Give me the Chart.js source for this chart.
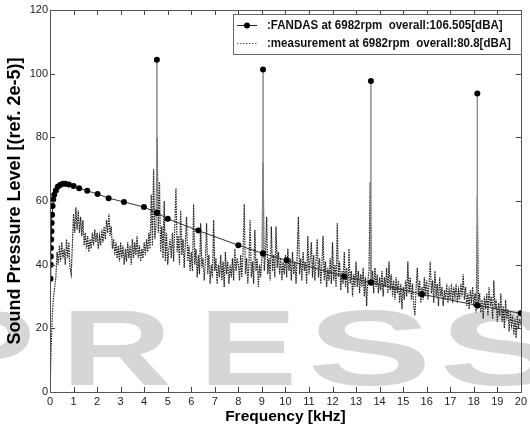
<!DOCTYPE html>
<html>
<head>
<meta charset="utf-8">
<script src="https://cdn.jsdelivr.net/npm/chart.js@4.4.1/dist/chart.umd.min.js"></script>
<style>
  html, body { margin: 0; padding: 0; background: #fff; }
  #wrap { width: 530px; height: 427px; }
</style>
</head>
<body>
<div id="wrap"><canvas id="chart" width="530" height="427"></canvas></div>
<script>
// FANDAS prediction: broadband curve plus tonal peaks at the blade passing harmonics
const fandasFreq = [0.02, 0.03, 0.035, 0.04, 0.05, 0.06, 0.07, 0.09, 0.11, 0.14, 0.18, 0.25, 0.33, 0.43, 0.54, 0.66, 0.8, 1.0, 1.24, 1.58, 2.02, 2.49, 3.14, 3.99,
  4.54, 4.54, 4.54, 5.0, 6.3, 8.0, 9.05, 9.05, 9.05, 10.05, 12.5, 13.63, 13.63, 13.63, 15.8, 18.15, 18.15, 18.15, 19.99];
const fandasLevel = [35.6, 40, 42.6, 45.2, 47.9, 50.5, 53.1, 55.7, 58.4, 60.5, 62, 63.3, 64.5, 65, 65.4, 65.4, 65.2, 64.7, 64, 63.2, 62.2, 60.9, 59.7, 58.1,
  56.3, 104.4, 56.3, 54.4, 50.7, 46.1, 43.5, 101.3, 43.5, 41.4, 36.3, 34.4, 97.7, 34.4, 30.7, 27.2, 93.8, 27.2, 24.7];

// measured spectrum, one value every 0.05 kHz (one row per kHz)
const measStep = 0.05;
const measLevel = [
  0, 14, 24, 30, 33, 36, 44, 40, 46, 41, 47, 42, 45, 40, 48, 42, 47, 39, 37, 46,
  56, 50, 58, 51, 57, 50, 55, 49, 54, 46, 50, 45, 49, 44, 48, 45, 50, 46, 51, 47,
  50, 45, 49, 46, 51, 47, 52, 48, 54, 50, 56, 49, 52, 45, 48, 43, 47, 42, 46, 41,
  47, 42, 46, 40, 45, 41, 47, 42, 46, 40, 48, 42, 47, 43, 49, 42, 46, 41, 45, 42,
  47, 43, 48, 44, 50, 45, 62, 46, 70, 48, 52, 80, 50, 66, 44, 52, 42, 60, 41, 50,
  40, 45, 48, 42, 50, 41, 52, 64, 44, 49, 40, 57, 43, 48, 39, 47, 55, 41, 46, 38,
  44, 38, 59, 40, 45, 36, 43, 37, 53, 39, 42, 35, 41, 53, 37, 43, 34, 40, 36, 54,
  38, 42, 34, 40, 36, 43, 35, 41, 33, 44, 37, 41, 34, 40, 36, 42, 35, 45, 38, 42,
  40, 35, 43, 36, 44, 59, 37, 42, 34, 40, 54, 36, 41, 34, 51, 38, 42, 33, 40, 36,
  42, 72, 38, 43, 55, 37, 42, 35, 52, 38, 43, 36, 52, 39, 44, 37, 42, 35, 41, 37,
  43, 36, 45, 38, 42, 35, 44, 37, 41, 34, 43, 55, 37, 42, 35, 44, 38, 41, 34, 49,
  37, 42, 47, 36, 43, 35, 41, 48, 36, 42, 34, 40, 49, 35, 41, 33, 39, 35, 42, 34,
  47, 35, 40, 33, 53, 36, 41, 32, 38, 34, 44, 33, 39, 31, 45, 34, 38, 30, 37, 33,
  41, 33, 38, 31, 37, 33, 39, 30, 36, 27, 35, 38, 66, 34, 38, 31, 39, 33, 37, 31,
  36, 32, 38, 30, 36, 33, 39, 31, 41, 32, 37, 30, 35, 29, 36, 31, 35, 28, 34, 26,
  33, 29, 35, 30, 41, 31, 36, 29, 34, 27, 24, 33, 39, 30, 35, 28, 33, 29, 36, 30,
  35, 29, 34, 41, 31, 35, 28, 38, 30, 34, 27, 36, 30, 33, 27, 32, 29, 34, 28, 32,
  29, 34, 28, 33, 30, 34, 28, 32, 29, 34, 30, 37, 29, 33, 27, 31, 26, 32, 28, 33,
  27, 31, 25, 61, 28, 31, 25, 29, 23, 30, 26, 31, 24, 33, 27, 30, 23, 35, 26, 29,
  22, 28, 24, 31, 22, 27, 20, 29, 23, 26, 19, 25, 21, 24, 18, 23, 17, 24, 20, 23, 21
];

const legendLabels = [':FANDAS at 6982rpm  overall:106.505[dBA]', ':measurement at 6982rpm  overall:80.8[dBA]'];
const xTitle = 'Frequency [kHz]';
const yTitle = 'Sound Pressure Level [(ref. 2e-5)]';
const watermark = ['P', 'R', 'E', 'S', 'S'];

const SANS = '"Liberation Sans", Arial, sans-serif';

const fandasPts = fandasFreq.map((f, i) => ({ x: f, y: fandasLevel[i] }));
const measPts = measLevel.map((v, i) => ({ x: +(i * measStep).toFixed(2), y: v }));

// box with inward ticks on all four sides, matlab style
const boxPlugin = {
  id: 'boxPlugin',
  beforeDraw(chart) {
    // faint publisher watermark behind everything
    const ctx = chart.ctx;
    const spots = [[-65, 100], [61, 111], [199, 98], [307, 125], [439, 125]];
    ctx.save();
    ctx.fillStyle = '#d6d6d6';
    ctx.font = 'bold 108px ' + SANS;
    ctx.textBaseline = 'alphabetic';
    watermark.forEach((ch, i) => {
      const w = ctx.measureText(ch).width;
      const [x0, tw] = spots[i];
      ctx.save();
      ctx.translate(x0, 385);
      ctx.scale(tw / w, 1);
      ctx.fillText(ch, 0, 0);
      ctx.restore();
    });
    ctx.restore();
  },
  afterDatasetsDraw(chart) {
    const { ctx, chartArea: a, scales } = chart;
    ctx.save();
    ctx.strokeStyle = '#444';
    ctx.lineWidth = 1;
    ctx.beginPath();
    scales.x.ticks.forEach(t => {
      const px = Math.round(scales.x.getPixelForValue(t.value)) + 0.5;
      ctx.moveTo(px, a.bottom); ctx.lineTo(px, a.bottom - 5);
      ctx.moveTo(px, a.top); ctx.lineTo(px, a.top + 5);
    });
    scales.y.ticks.forEach(t => {
      const py = Math.round(scales.y.getPixelForValue(t.value)) + 0.5;
      ctx.moveTo(a.left, py); ctx.lineTo(a.left + 5, py);
      ctx.moveTo(a.right, py); ctx.lineTo(a.right - 5, py);
    });
    ctx.stroke();
    ctx.strokeStyle = '#555';
    ctx.strokeRect(Math.round(a.left) + 0.5, Math.round(a.top) + 0.5, Math.round(a.right - a.left), Math.round(a.bottom - a.top));
    ctx.restore();
  },
  afterDraw(chart) {
    // legend box in the upper right
    const ctx = chart.ctx;
    ctx.save();
    const bx = 233, by = 14, bw = 288, bh = 40;
    ctx.fillStyle = '#fff';
    ctx.fillRect(bx, by, bw, bh);
    ctx.strokeStyle = '#666';
    ctx.lineWidth = 1;
    ctx.strokeRect(bx + 0.5, by + 0.5, bw, bh);
    const rows = [25, 43];
    ctx.strokeStyle = '#222';
    ctx.beginPath(); ctx.moveTo(237, rows[0] + 0.5); ctx.lineTo(257, rows[0] + 0.5); ctx.stroke();
    ctx.fillStyle = '#000';
    ctx.beginPath(); ctx.arc(247, rows[0] + 0.5, 3, 0, Math.PI * 2); ctx.fill();
    ctx.setLineDash([1.5, 1.5]);
    ctx.strokeStyle = '#555';
    ctx.beginPath(); ctx.moveTo(237, rows[1] + 0.5); ctx.lineTo(257, rows[1] + 0.5); ctx.stroke();
    ctx.setLineDash([]);
    ctx.font = 'bold 12px ' + SANS;
    ctx.textBaseline = 'middle';
    ctx.fillStyle = '#111';
    legendLabels.forEach((t, i) => {
      ctx.save();
      ctx.translate(267, rows[i] + 1);
      ctx.scale(0.96, 1);
      ctx.fillText(t, 0, 0);
      ctx.restore();
    });
    ctx.restore();
  }
};

new Chart(document.getElementById('chart'), {
  type: 'scatter',
  data: {
    datasets: [
      {
        label: legendLabels[0],
        data: fandasPts,
        showLine: true,
        order: 0,
        borderColor: '#333',
        borderWidth: 1,
        pointRadius: 3,
        pointBackgroundColor: '#000',
        pointBorderColor: '#000',
        pointBorderWidth: 0,
        segment: {
          borderColor: c => (c.p0.parsed.x === c.p1.parsed.x ? '#8a8a8a' : '#333')
        }
      },
      {
        label: legendLabels[1],
        data: measPts,
        showLine: true,
        order: 1,
        borderColor: '#262626',
        borderWidth: 1.2,
        borderDash: [1.6, 0.9],
        pointRadius: 0
      }
    ]
  },
  options: {
    responsive: false,
    animation: false,
    devicePixelRatio: 1,
    layout: { padding: { top: 10, right: 7, left: 0, bottom: 0 } },
    plugins: {
      legend: { display: false },
      tooltip: { enabled: false }
    },
    scales: {
      x: {
        type: 'linear',
        min: 0,
        max: 20,
        afterFit: s => { s.height = 35; },
        grid: { display: false, drawTicks: false },
        border: { display: false },
        ticks: { stepSize: 1, padding: 3, color: '#222', font: { family: SANS, size: 11 }, maxRotation: 0 },
        title: { display: true, text: xTitle, color: '#000', padding: 0, font: { family: SANS, size: 15.5, weight: 'bold', lineHeight: 1.35 } }
      },
      y: {
        min: 0,
        max: 120,
        afterFit: s => { s.width = 50; },
        grid: { display: false, drawTicks: false },
        border: { display: false },
        ticks: { stepSize: 20, padding: 2, color: '#222', font: { family: SANS, size: 11 } },
        title: { display: true, text: yTitle, color: '#000', padding: { top: 4, bottom: 0 }, font: { family: SANS, size: 18, weight: 'bold', lineHeight: 1.2 } }
      }
    }
  },
  plugins: [boxPlugin]
});
</script>
</body>
</html>
